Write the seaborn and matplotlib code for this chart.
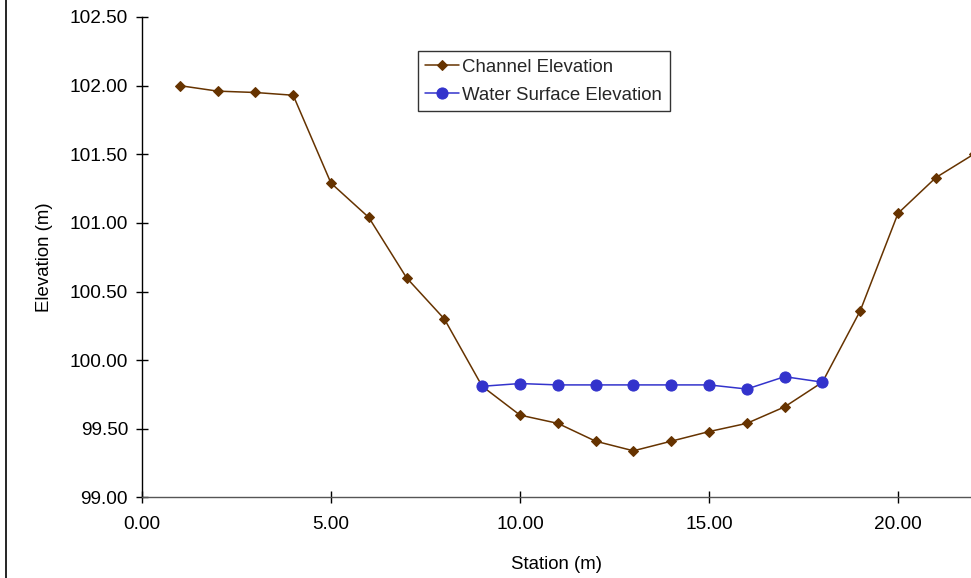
import numpy as np
import pandas as pd
import matplotlib
matplotlib.use("Agg")
import matplotlib.pyplot as plt
from matplotlib.lines import Line2D
from matplotlib.ticker import FormatStrFormatter
import seaborn as sns

# Cross-section survey: station (m) vs elevation (m)
channel_station = [1, 2, 3, 4, 5, 6, 7, 8, 9, 10, 11, 12, 13, 14, 15, 16, 17, 18, 19, 20, 21, 22]
channel_elev = [102.00, 101.96, 101.95, 101.93, 101.29, 101.04, 100.60, 100.30, 99.81, 99.60,
                99.54, 99.41, 99.34, 99.41, 99.48, 99.54, 99.66, 99.84, 100.36, 101.07, 101.33, 101.50]

water_station = [9, 10, 11, 12, 13, 14, 15, 16, 17, 18]
water_elev = [99.81, 99.83, 99.82, 99.82, 99.82, 99.82, 99.82, 99.79, 99.88, 99.84]

x_ticks = [0, 5, 10, 15, 20]
y_ticks = [99.00, 99.50, 100.00, 100.50, 101.00, 101.50, 102.00, 102.50]

sns.set_theme(style="white")
plt.rcParams["font.family"] = ["Liberation Sans", "DejaVu Sans"]

chan_df = pd.DataFrame({"Station": channel_station, "Elevation": channel_elev})
water_df = pd.DataFrame({"Station": water_station, "Elevation": water_elev})

fig = plt.figure(figsize=(9.71, 5.78), dpi=100)
ax = fig.add_axes([0.1462, 0.1393, 0.8538, 0.8313])

brown = "#663300"
blue = "#3333CC"

sns.lineplot(data=chan_df, x="Station", y="Elevation", ax=ax, color=brown, lw=1.1,
             marker="D", markersize=5, markeredgecolor=brown, markerfacecolor=brown,
             label="Channel Elevation", sort=False)
sns.lineplot(data=water_df, x="Station", y="Elevation", ax=ax, color=blue, lw=1.1,
             marker="o", markersize=8, markeredgecolor=blue, markerfacecolor=blue,
             label="Water Surface Elevation", sort=False)

ax.set_xlim(0, 21.93)
ax.set_ylim(99.0, 102.5)
ax.set_xticks(x_ticks)
ax.set_yticks(y_ticks)
ax.xaxis.set_major_formatter(FormatStrFormatter("%.2f"))
ax.yaxis.set_major_formatter(FormatStrFormatter("%.2f"))

for side in ("top", "right"):
    ax.spines[side].set_visible(False)
for side in ("left", "bottom"):
    ax.spines[side].set_color("#000000")
    ax.spines[side].set_linewidth(1.0)
ax.spines["bottom"].set_color("#555555")

ax.tick_params(axis="both", direction="inout", length=8, width=1, color="#000000",
               labelsize=13.7, labelcolor="#000000", left=True, bottom=True, pad=6)
ax.tick_params(axis="x", pad=9)

ax.set_xlabel("Station (m)", fontsize=13.4, color="#000000", labelpad=17)
ax.set_ylabel("Elevation (m)", fontsize=13.4, color="#000000", labelpad=12)

leg = ax.legend(loc="upper left", bbox_to_anchor=(0.3327, 0.929), frameon=True,
                fancybox=False, edgecolor="#000000", fontsize=13.4, handlelength=1.8,
                borderpad=0.4, labelspacing=0.6, handletextpad=0.2, borderaxespad=0)
leg.get_frame().set_linewidth(1.0)

# outer chart border on the left edge
fig.add_artist(Line2D([0.0057, 0.0057], [0, 1], transform=fig.transFigure,
                      color="#000000", lw=1.2))

fig.savefig("out.png", dpi=100)
